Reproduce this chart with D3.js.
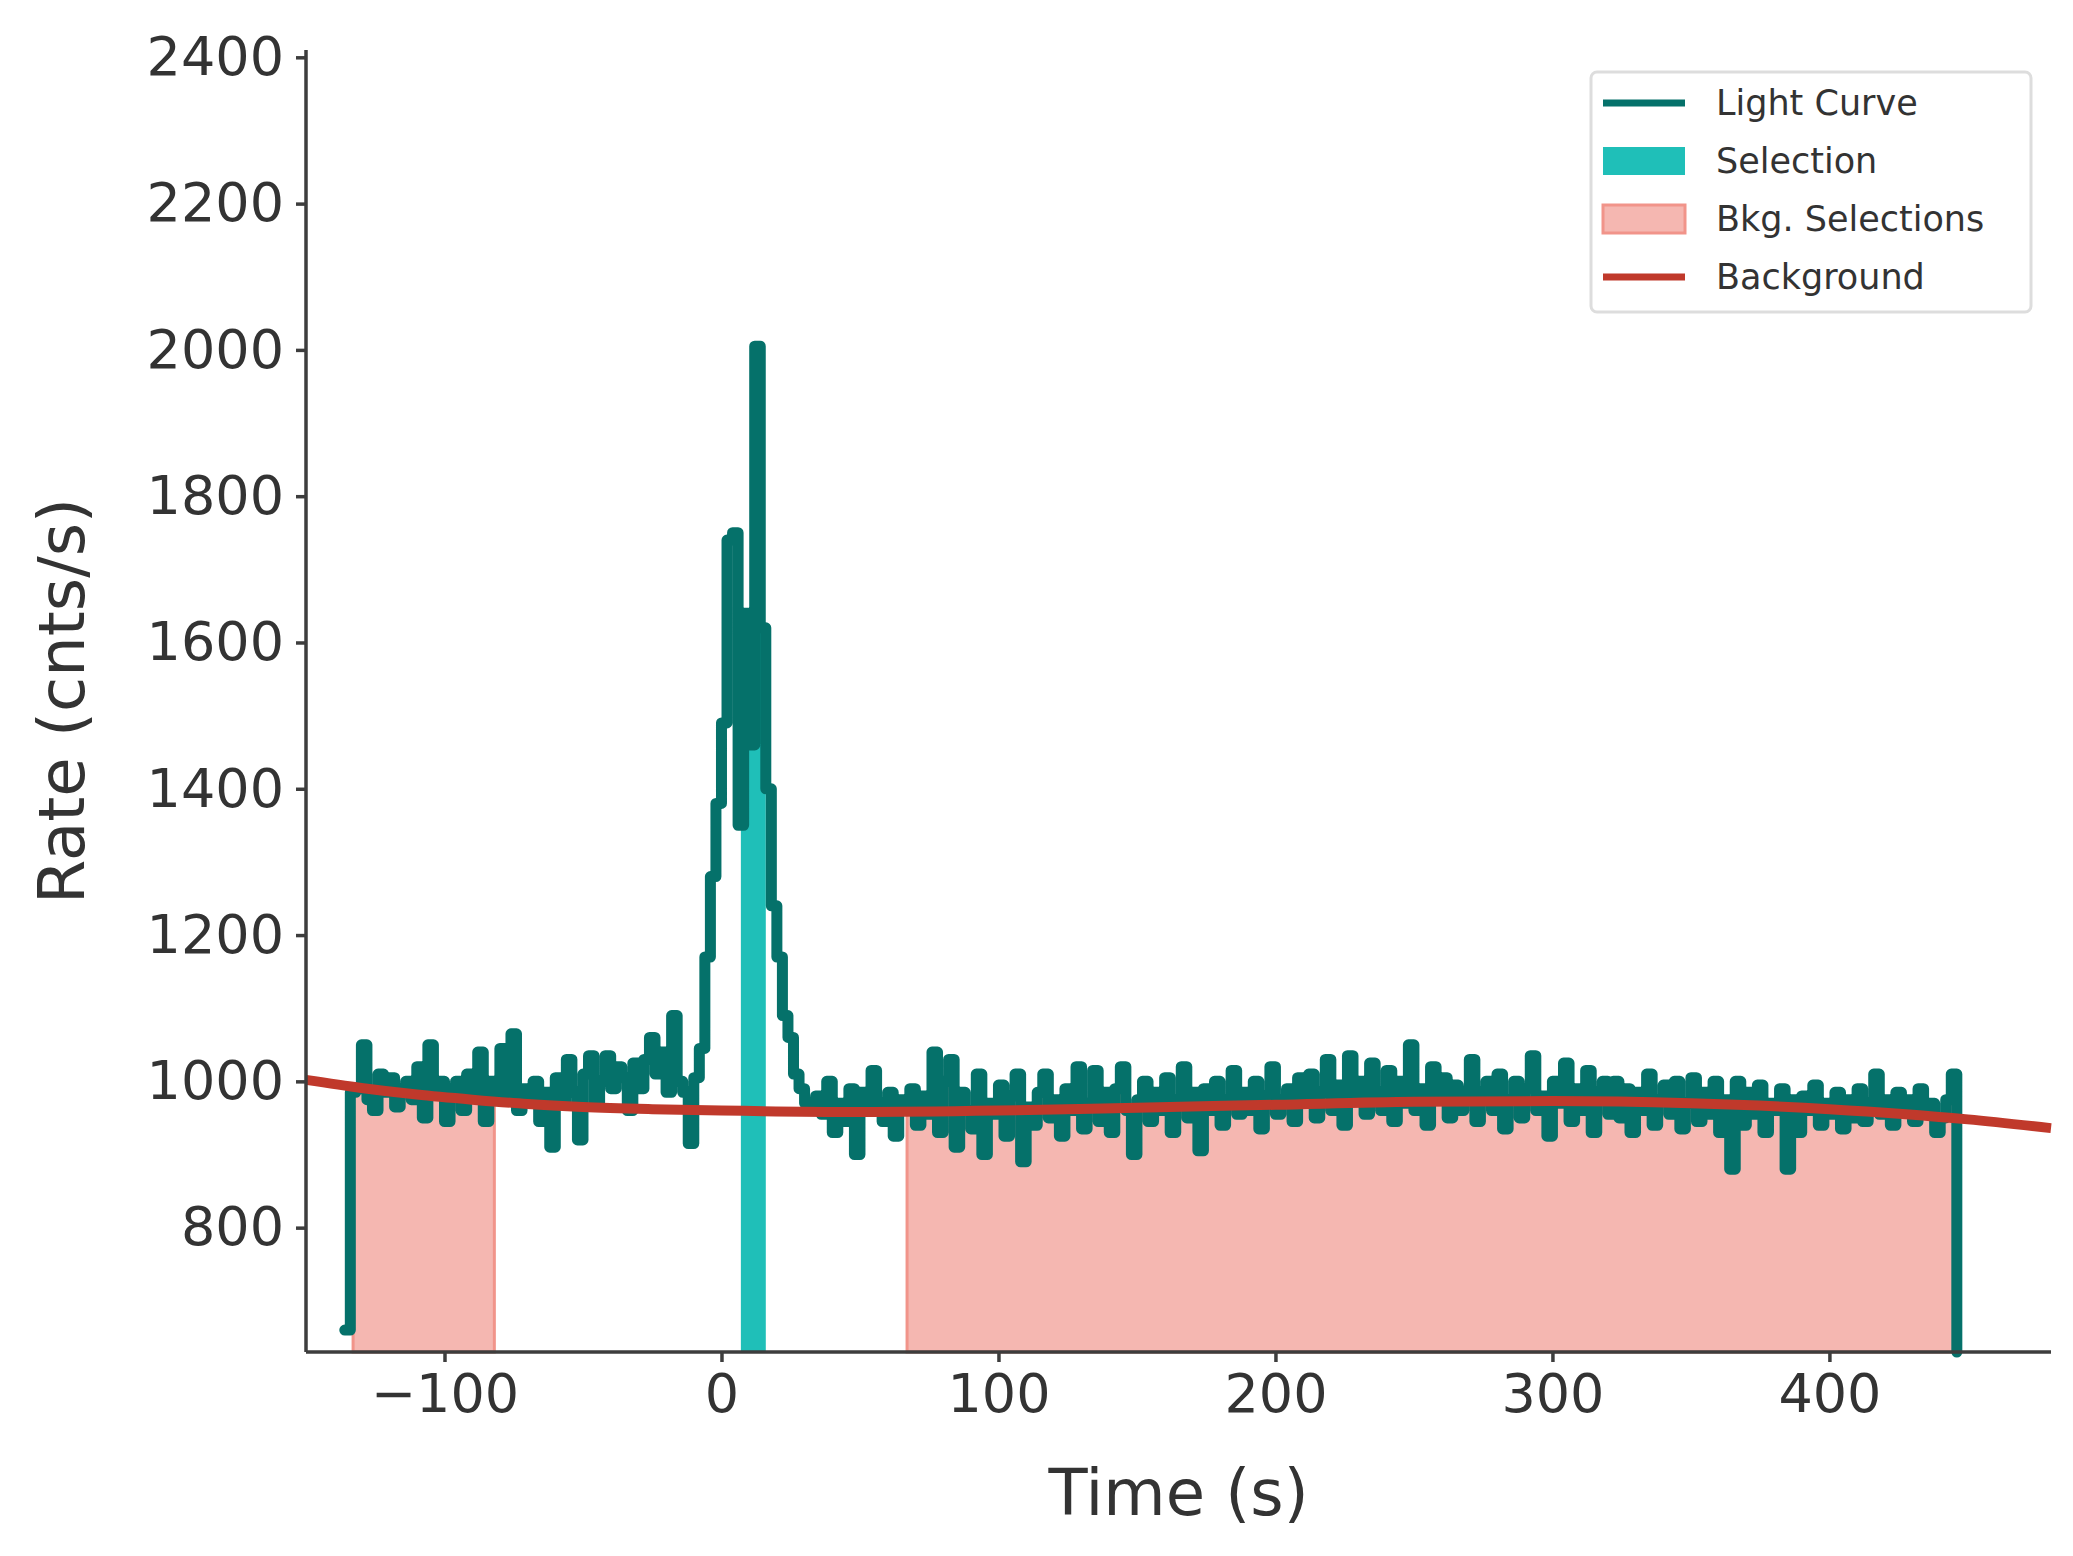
<!DOCTYPE html>
<html>
<head>
<meta charset="utf-8">
<script src="https://cdn.jsdelivr.net/npm/d3@7"></script>
<style>
  body { margin: 0; background: #fff; }
  text { font-family: "DejaVu Sans", sans-serif; fill: #333; }
</style>
</head>
<body>
<script>
// light curve, 2 s bins starting at t0
var t0 = -134, binWidth = 2;
var preBurst = [985, 990, 1050, 975, 960, 1010, 985, 1005, 965, 990,
  1000, 975, 1020, 950, 1050, 985, 1000, 945, 990, 1000,
  960, 1010, 980, 1040, 945, 1000, 985, 1045, 975, 1065,
  960, 990, 980, 1000, 945, 985, 910, 1005, 970, 1030,
  985, 920, 1010, 1035, 970, 1000, 1035, 990, 1020, 1005,
  960, 1025, 990, 1030, 1060, 1010, 1040, 985, 1090];
var burst = [1000, 985, 915, 1005, 1045, 1170, 1280, 1380, 1490, 1740,
  1750, 1350, 1640, 1460, 2005, 1620, 1400, 1240, 1170, 1090,
  1060, 1010, 990, 970];
var postBurst = [965, 980, 955, 1000, 930, 970, 945, 990, 900, 985,
  960, 1015, 970, 945, 985, 925, 975, 960, 990, 940,
  980, 955, 1040, 930, 1000, 1030, 910, 985, 960, 935,
  1010, 900, 970, 955, 995, 925, 980, 1010, 890, 965,
  940, 985, 1010, 950, 975, 925, 990, 960, 1020, 935,
  970, 1015, 945, 985, 930, 990, 1020, 960, 900, 975,
  1000, 945, 985, 960, 1005, 930, 975, 1020, 950, 985,
  905, 990, 960, 1000, 940, 975, 1015, 955, 985, 960,
  1000, 935, 980, 1020, 955, 975, 990, 945, 1005, 970,
  1010, 950, 985, 1030, 960, 995, 940, 1035, 975, 1000,
  955, 1025, 985, 960, 1015, 945, 1000, 970, 1050, 960,
  990, 940, 1020, 975, 1005, 950, 995, 960, 985, 1030,
  945, 985, 1000, 960, 1010, 935, 975, 1000, 950, 990,
  1035, 960, 980, 925, 1000, 970, 1025, 945, 990, 960,
  1015, 930, 985, 1000, 955, 1000, 950, 990, 930, 985,
  960, 1010, 940, 975, 995, 955, 1000, 935, 970, 1005,
  945, 985, 955, 1000, 930, 975, 880, 1000, 940, 985,
  955, 995, 930, 970, 960, 990, 880, 975, 930, 980,
  960, 995, 940, 970, 955, 985, 935, 975, 950, 990,
  945, 970, 1010, 955, 975, 940, 985, 960, 975, 945,
  990, 955, 970, 930, 950, 975, 1010];
var rates = preBurst.concat(burst, postBurst);

var selection = [7, 16];
var bkgSelections = [[-133, -82], [67, 446]];

var bkgTimes = [-150, -130, -110, -90, -70, -50, -25, 0, 50, 100, 150, 200, 250, 300, 350, 400, 450, 480];
var bkgRates = [1002, 991, 982, 975, 969, 965, 962, 960, 958, 960, 964, 968, 972, 973, 970, 962, 948, 936];

var xTicks = [-100, 0, 100, 200, 300, 400];
var yTicks = [800, 1000, 1200, 1400, 1600, 1800, 2000, 2200, 2400];

var W = 2073, H = 1556;
var m = {left: 306, right: W - 2051, top: 50, bottom: H - 1352};
var svg = d3.select("body").append("svg").attr("width", W).attr("height", H);

var x = d3.scaleLinear().domain([-150, 480]).range([m.left, W - m.right]);
var y = d3.scaleLinear().domain([630, 2410]).range([H - m.bottom, m.top]);

// step points: bin edges
var pts = [{t: t0 - 2, r: 660}];
rates.forEach(function(r, i) { pts.push({t: t0 + i * binWidth, r: r}); });
var tEnd = t0 + rates.length * binWidth;
pts.push({t: tEnd, r: 630});
pts.push({t: tEnd + 0.01, r: 630});

function clipTo(a, b) {
  var out = [];
  pts.forEach(function(p, i) {
    var next = pts[i + 1] ? pts[i + 1].t : p.t;
    if (next <= a || p.t >= b) return;
    out.push({t: Math.max(a, p.t), r: p.r});
  });
  out.push({t: b, r: out[out.length - 1].r});
  return out;
}

var area = d3.area().curve(d3.curveStepAfter)
  .x(function(d) { return x(d.t); }).y0(y(630)).y1(function(d) { return y(d.r); });

var g = svg.append("g");
bkgSelections.forEach(function(s) {
  g.append("path").datum(clipTo(s[0], s[1])).attr("d", area)
    .attr("fill", "#f5b7b1").attr("stroke", "#f1948a").attr("stroke-width", 3);
});
g.append("path").datum(clipTo(selection[0], selection[1])).attr("d", area)
  .attr("fill", "#1fbfb8");

var line = d3.line().curve(d3.curveStepAfter)
  .x(function(d) { return x(d.t); }).y(function(d) { return y(d.r); });
g.append("path").datum(pts).attr("d", line)
  .attr("fill", "none").attr("stroke", "#05716a").attr("stroke-width", 11)
  .attr("stroke-linejoin", "round").attr("stroke-linecap", "round");

var bkgLine = d3.line().curve(d3.curveMonotoneX)
  .x(function(d, i) { return x(bkgTimes[i]); }).y(function(d) { return y(d); });
g.append("path").datum(bkgRates).attr("d", bkgLine)
  .attr("fill", "none").attr("stroke", "#c0392b").attr("stroke-width", 10);

// axes
var xAxis = svg.append("g").attr("transform", "translate(0," + (H - m.bottom) + ")")
  .call(d3.axisBottom(x).tickValues(xTicks).tickSize(10).tickPadding(12)
    .tickFormat(function(d) { return d < 0 ? "\u2212" + Math.abs(d) : d; }));
var yAxis = svg.append("g").attr("transform", "translate(" + m.left + ",0)")
  .call(d3.axisLeft(y).tickValues(yTicks).tickSize(10).tickPadding(12).tickFormat(d3.format("d")));
[xAxis, yAxis].forEach(function(a) {
  a.select(".domain").attr("stroke", "#3d3d3d").attr("stroke-width", 3.5);
  a.selectAll(".tick line").attr("stroke", "#3d3d3d").attr("stroke-width", 3.5);
  a.selectAll(".tick text").attr("font-size", 54).attr("fill", "#333")
    .attr("font-family", "DejaVu Sans");
});
xAxis.select(".domain").attr("d", "M" + m.left + ",0H" + (W - m.right));
yAxis.select(".domain").attr("d", "M0," + (H - m.bottom) + "V" + m.top);

svg.append("text").attr("x", (m.left + W - m.right) / 2).attr("y", 1515)
  .attr("text-anchor", "middle").attr("font-size", 64).text("Time (s)");
svg.append("text").attr("transform", "translate(84," + ((m.top + H - m.bottom) / 2) + ") rotate(-90)")
  .attr("text-anchor", "middle").attr("font-size", 64).text("Rate (cnts/s)");

// legend
var lg = svg.append("g").attr("transform", "translate(1591,72)");
lg.append("rect").attr("width", 440).attr("height", 240).attr("rx", 6)
  .attr("fill", "#fff").attr("stroke", "#ddd").attr("stroke-width", 3);
var items = [
  {label: "Light Curve", type: "line", color: "#05716a"},
  {label: "Selection", type: "rect", color: "#1fbfb8"},
  {label: "Bkg. Selections", type: "rect", color: "#f5b7b1", edge: "#f1948a"},
  {label: "Background", type: "line", color: "#c0392b"}
];
items.forEach(function(it, i) {
  var cy = 31 + i * 58;
  if (it.type === "line") {
    lg.append("line").attr("x1", 12).attr("x2", 94).attr("y1", cy).attr("y2", cy)
      .attr("stroke", it.color).attr("stroke-width", 7);
  } else {
    lg.append("rect").attr("x", 12).attr("y", cy - 14).attr("width", 82).attr("height", 28)
      .attr("fill", it.color).attr("stroke", it.edge || "none").attr("stroke-width", 3);
  }
  lg.append("text").attr("x", 125).attr("y", cy + 12).attr("font-size", 35).text(it.label);
});
</script>
</body>
</html>
